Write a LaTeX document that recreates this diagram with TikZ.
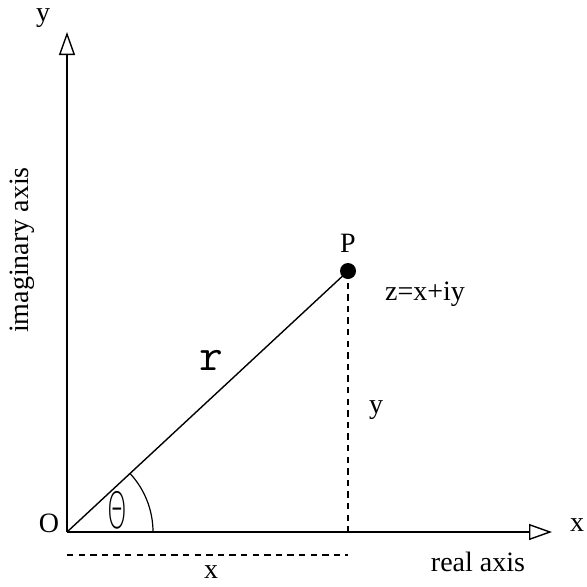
\documentclass[tikz,border=0pt]{standalone}
\usepackage{fontspec}
\setmainfont{Liberation Serif}
\newfontfamily\thinfnt{DejaVu Sans ExtraLight}
\usepackage{tikz}
\usetikzlibrary{arrows.meta}
\tikzset{
  axis/.style={-{Triangle[open,length=11.5pt,width=8pt]},line width=0.7pt},
  leg/.style={line width=0.7pt},
  guide/.style={dash pattern=on 3.2pt off 2.6pt,line width=0.6pt},
  lbl/.style={inner sep=0pt,font=\fontsize{14}{16}\selectfont},
  point/.style={circle,fill=black,minimum size=8pt,inner sep=0pt}
}

\begin{document}
\begin{tikzpicture}[x=0.5pt,y=0.5pt]
  \useasboundingbox (-67,-54) rectangle (520,532);
  % axes
  \coordinate (O) at (0,0);
  \coordinate (ytip) at (0,500);
  \coordinate (xtip) at (485,0);
  \draw[axis] (O)--(ytip);
  \draw[axis] (O)--(xtip);
  % the point and its projections
  \node[point] (P) at (281,261) {};
  \coordinate (foot) at (281,0);
  \coordinate (xl) at (0,-23);
  \coordinate (xr) at (281,-23);
  \draw[leg] (O)--(P.center);
  \draw[guide] (P.center)--(foot);
  \draw[guide] (xl)--(xr);
  \draw[line width=0.6pt] (86,0) arc[start angle=0,end angle=43,radius=86];
  % labels
  \node[lbl] (ylab) at (-24,514) {y};
  \node[lbl] (xlab) at (510,7) {x};
  \node[lbl] (olab) at (-18,9) {O};
  \node[lbl] (plab) at (281,289) {P};
  \node[lbl] (zlab) at (358,238) {z=x+iy};
  \node[inner sep=0pt,font=\ttfamily\fontsize{23}{25}\selectfont] (rlab) at (144,172) {r};
  \node[lbl] (ylen) at (309,122) {y};
  \node[lbl] (xlen) at (144,-40) {x};
  \node[lbl] (relab) at (411,-30) {real axis};
  \node[lbl,rotate=90] (imlab) at (-45,282) {imaginary axis};
  \node[inner sep=0pt] (thlab) at (50,22)
    {\thinfnt\fontsize{25}{27}\selectfont\scalebox{0.5}[1]{Θ}};
\end{tikzpicture}
\end{document}
